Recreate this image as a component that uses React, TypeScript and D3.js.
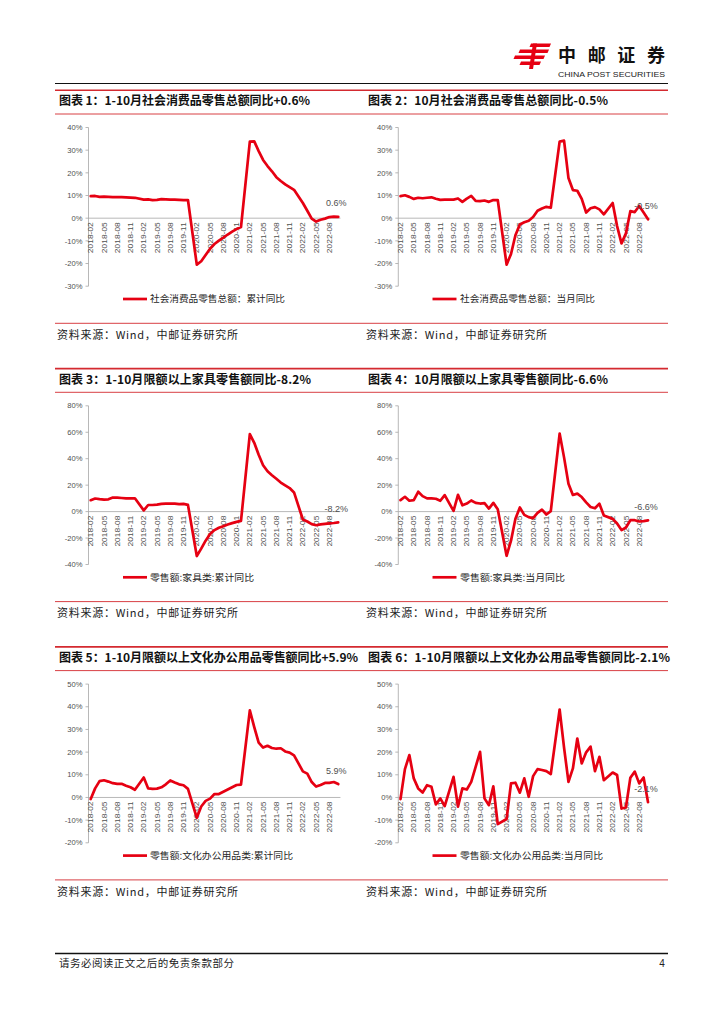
import React from 'react';
import * as d3 from 'd3';

// ---------- categories ----------
const MONTHS: string[] = (() => {
  const out: string[] = [];
  for (let y = 2018; y <= 2022; y++) {
    for (let m = 1; m <= 12; m++) {
      if (y === 2018 && m < 2) continue;
      if (y === 2022 && m > 10) continue;
      out.push(`${y}-${String(m).padStart(2, '0')}`);
    }
  }
  return out;
})();

const TICK_LABELS = [
  '2018-02', '2018-05', '2018-08', '2018-11',
  '2019-02', '2019-05', '2019-08', '2019-11',
  '2020-02', '2020-05', '2020-08', '2020-11',
  '2021-02', '2021-05', '2021-08', '2021-11',
  '2022-02', '2022-05', '2022-08',
];

// ---------- series (January merged into Feb -> null) ----------
const retailCum = [
  9.7, 9.8, 9.4, 9.5, 9.4, 9.3, 9.3, 9.3, 9.2, 9.1, 9.0,
  null, 8.2, 8.3, 8.0, 8.1, 8.4, 8.3, 8.2, 8.2, 8.1, 8.0, 8.0,
  null, -20.5, -19.0, -16.2, -13.5, -11.4, -9.9, -8.6, -7.2, -5.9, -4.8, -3.9,
  null, 33.8, 33.9, 29.6, 25.7, 23.0, 20.7, 18.1, 16.4, 14.9, 13.7, 12.5,
  null, 6.7, 3.3, -0.2, -1.5, -0.7, -0.2, 0.5, 0.7, 0.6,
];
const retailMon = [
  9.7, 10.1, 9.4, 8.5, 9.0, 8.8, 9.0, 9.2, 8.6, 8.1, 8.2,
  null, 8.2, 8.7, 7.2, 8.6, 9.8, 7.6, 7.5, 7.8, 7.2, 8.0, 8.0,
  null, -20.5, -15.8, -7.5, -2.8, -1.8, -1.1, 0.5, 3.3, 4.3, 5.0, 4.6,
  null, 33.8, 34.2, 17.7, 12.4, 12.1, 8.5, 2.5, 4.4, 4.9, 3.9, 1.7,
  null, 6.7, -3.5, -11.1, -6.7, 3.1, 2.7, 5.4, 2.5, -0.5,
];
const furnCum = [
  8.6, 9.9, 9.4, 9.0, 9.3, 10.6, 10.5, 10.3, 10.0, 10.0, 10.1,
  null, 0.9, 5.0, 5.0, 5.3, 5.8, 6.0, 6.0, 6.0, 5.6, 5.8, 5.1,
  null, -33.6, -28.0, -22.0, -17.0, -14.0, -12.2, -11.0, -9.8, -8.7, -7.8, -7.0,
  null, 58.6, 52.0, 43.0, 35.0, 30.5, 27.5, 24.8, 22.0, 19.8, 17.8, 14.5,
  null, -6.0, -7.5, -9.5, -10.3, -9.7, -9.3, -8.9, -8.6, -8.2,
];
const furnMon = [
  8.7, 11.2, 8.2, 8.7, 15.0, 11.7, 10.0, 10.0, 9.7, 8.2, 12.5,
  null, 0.5, 12.7, 4.8, 6.1, 8.4, 6.6, 6.1, 6.4, 2.3, 6.6, 1.8,
  null, -33.4, -22.0, -5.4, 3.1, -2.5, -4.2, -5.0, -1.0, 1.5, -2.2, 0.3,
  null, 59.0, 41.0, 21.0, 12.6, 13.6, 11.0, 7.0, 3.5, 2.5, 6.0, -3.0,
  null, -5.5, -9.0, -14.0, -12.0, -6.5, -6.5, -7.5, -7.2, -6.6,
];
const officeCum = [
  -0.7, 4.0, 7.2, 7.6, 7.0, 6.3, 6.0, 6.0, 5.2, 4.5, 3.4,
  null, 8.8, 4.0, 3.8, 3.9, 4.5, 5.8, 7.5, 6.6, 5.8, 5.4, 3.8,
  null, -9.0, -4.0, -1.5, -0.5, 1.5, 1.5, 2.5, 3.5, 4.5, 5.5, 5.7,
  null, 38.4, 31.0, 24.2, 22.0, 22.8, 21.8, 21.5, 21.7, 20.3, 19.8, 18.6,
  null, 11.5, 10.5, 6.8, 4.8, 5.5, 6.4, 6.4, 6.8, 5.9,
];
const officeMon = [
  -0.7, 12.5, 18.7, 8.4, 4.0, 2.2, 5.4, 4.7, -3.1, -0.4, -3.8,
  null, 9.1, -4.1, 4.0, 3.5, 6.9, 13.5, 20.1, -0.4, -3.4, 4.9, -11.8,
  null, -9.5, 6.2, 6.5, 2.1, 8.4, 0.3, 9.4, 12.5, 12.1, 11.6, 10.3,
  null, 38.8, 22.0, 6.9, 12.8, 26.0, 15.0, 19.9, 22.4, 11.6, 17.9, 7.6,
  null, 11.0, 9.9, -4.9, -4.4, 8.7, 11.4, 6.2, 8.8, -2.1,
];

const TICKS_A = [-30, -20, -10, 0, 10, 20, 30, 40];
const TICKS_B = [-40, -20, 0, 20, 40, 60, 80];
const TICKS_C = [-20, -10, 0, 10, 20, 30, 40, 50];

const TITLES = [
  '图表 1：1-10月社会消费品零售总额同比+0.6%',
  '图表 2：10月社会消费品零售总额同比-0.5%',
  '图表 3：1-10月限额以上家具零售额同比-8.2%',
  '图表 4：10月限额以上家具零售额同比-6.6%',
  '图表 5：1-10月限额以上文化办公用品零售额同比+5.9%',
  '图表 6：1-10月限额以上文化办公用品零售额同比-2.1%',
];
const LEGENDS = [
  '社会消费品零售总额：累计同比',
  '社会消费品零售总额：当月同比',
  '零售额:家具类:累计同比',
  '零售额:家具类:当月同比',
  '零售额:文化办公用品类:累计同比',
  '零售额:文化办公用品类:当月同比',
];
const SERIES = [retailCum, retailMon, furnCum, furnMon, officeCum, officeMon];
const TICKSETS = [TICKS_A, TICKS_A, TICKS_B, TICKS_B, TICKS_C, TICKS_C];
const SOURCE = '资料来源：Wind，中邮证券研究所';

// ---------- layout (positions / styles) ----------
const LINE_RED = '#e60012';
const RULE_RED = '#d42a30';
const AXIS_GRAY = '#a6a6a6';
const TEXT_GRAY = '#505050';
const NUM_FONT = '"Liberation Sans", Arial, sans-serif';
const CJK_FONT = '"Noto Sans CJK SC", "Noto Sans", sans-serif';
const ROW_OFF = 278.3;
const COL_X = [88.5, 398.3];
const STEP = 4.42;
const TITLE_W = [251, 240, 252, 240, 299, 302];
const LEGEND_W = [135, 135, 104, 105, 143, 143];

function fmt(v: number) {
  return `${v.toFixed(1)}%`;
}

function Chart({ idx }: { idx: number }) {
  const row = Math.floor(idx / 2);
  const col = idx % 2;
  const off = row * ROW_OFF;
  const x0 = COL_X[col];
  const yTop = 127.5 + off;
  const yBot = 286.2 + off;
  const ticks = TICKSETS[idx];
  const data = SERIES[idx];

  const x = d3.scaleBand<string>().domain(MONTHS).range([x0, x0 + MONTHS.length * STEP]);
  const y = d3
    .scaleLinear()
    .domain([ticks[0], ticks[ticks.length - 1]])
    .range([yBot, yTop]);
  const cx = (m: string) => (x(m) as number) + x.bandwidth() / 2;

  const pts = data
    .map((v, i) => ({ v, m: MONTHS[i] }))
    .filter((p) => p.v !== null) as { v: number; m: string }[];
  const line = d3
    .line<{ v: number; m: string }>()
    .x((p) => cx(p.m))
    .y((p) => y(p.v));
  const last = pts[pts.length - 1];
  const y0 = y(0);
  const xEnd = x0 + MONTHS.length * STEP;

  const legLineX = col === 0 ? 123 : 432.5;
  const legTextX = col === 0 ? 150 : 460;
  const legY = 299 + off;

  return (
    <g>
      {/* y axis */}
      <line x1={x0} x2={x0} y1={yTop} y2={yBot} stroke={AXIS_GRAY} strokeWidth={0.8} />
      {ticks.map((t) => (
        <g key={t}>
          <line x1={x0 - 3} x2={x0} y1={y(t)} y2={y(t)} stroke={AXIS_GRAY} strokeWidth={0.8} />
          <text
            x={x0 - 6}
            y={y(t)}
            dy="0.35em"
            textAnchor="end"
            fontSize={7.6}
            fontFamily={NUM_FONT}
            fill={TEXT_GRAY}
          >
            {`${t}%`}
          </text>
        </g>
      ))}
      {/* zero line */}
      <line x1={x0} x2={xEnd} y1={y0} y2={y0} stroke={AXIS_GRAY} strokeWidth={0.8} />
      {/* x labels */}
      {TICK_LABELS.map((lab) => (
        <text
          key={lab}
          transform={`translate(${cx(lab)},${y0 + 4}) rotate(-90)`}
          dy="0.35em"
          textAnchor="end"
          fontSize={7.4}
          fontFamily={NUM_FONT}
          fill={TEXT_GRAY}
          textLength={31}
          lengthAdjust="spacingAndGlyphs"
        >
          {lab}
        </text>
      ))}
      {/* series */}
      <path
        d={line(pts) as string}
        fill="none"
        stroke={LINE_RED}
        strokeWidth={2.7}
        strokeLinejoin="round"
        strokeLinecap="round"
      />
      {/* last value label */}
      <text
        x={cx(last.m) - 2}
        y={y(last.v) - 10.5}
        textAnchor="middle"
        fontSize={9}
        fontFamily={NUM_FONT}
        fill={TEXT_GRAY}
      >
        {fmt(last.v)}
      </text>
      {/* legend */}
      <line x1={legLineX} x2={legLineX + 24} y1={legY} y2={legY} stroke={LINE_RED} strokeWidth={2.7} />
      <text
        x={legTextX}
        y={legY}
        dy="0.36em"
        fontSize={9.6}
        fontFamily={CJK_FONT}
        fill="#262626"
        textLength={LEGEND_W[idx]}
        lengthAdjust="spacingAndGlyphs"
      >
        {LEGENDS[idx]}
      </text>
    </g>
  );
}

function Frame() {
  const L = 55;
  const R = 668;
  const rows = [0, 1, 2];
  return (
    <g>
      {/* header */}
      <g fill="#e60012">
        <polygon points="531,43.5 551,43.5 549.5,47 529.5,47" />
        <polygon points="520,49.5 549,49.5 547.5,53 518.5,53" />
        <polygon points="515,55.5 545,55.5 543.5,59 513.5,59" />
        <polygon points="521,61.5 541,61.5 539.5,65 519.5,65" />
        <polygon points="533,43.5 537,43.5 533,69 529,69" />
      </g>
      <text
        x={558}
        y={62}
        fontSize={18}
        fontWeight={700}
        fontFamily={CJK_FONT}
        fill="#111"
        textLength={107}
        lengthAdjust="spacing"
      >
        中邮证券
      </text>
      <text
        x={558}
        y={77.3}
        fontSize={6.5}
        fontFamily={NUM_FONT}
        fill="#222"
        textLength={107}
        lengthAdjust="spacingAndGlyphs"
      >
        CHINA POST SECURITIES
      </text>
      <line x1={L} x2={R} y1={83.5} y2={83.5} stroke="#111" strokeWidth={1} />

      {rows.map((r) => {
        const off = r * ROW_OFF;
        return (
          <g key={r}>
            <line x1={L} x2={R} y1={90.3 + off} y2={90.3 + off} stroke={RULE_RED} strokeWidth={1.6} />
            <line x1={L} x2={R} y1={114 + off} y2={114 + off} stroke={RULE_RED} strokeWidth={0.9} />
            <line x1={L} x2={R} y1={323.3 + off} y2={323.3 + off} stroke={RULE_RED} strokeWidth={0.9} />
            {[0, 1].map((c) => {
              const i = r * 2 + c;
              const tx = c === 0 ? 59 : 368;
              return (
                <g key={c}>
                  <text
                    x={tx}
                    y={105.2 + off}
                    fontSize={12}
                    fontWeight={700}
                    fontFamily={CJK_FONT}
                    fill="#111"
                    textLength={TITLE_W[i]}
                    lengthAdjust="spacing"
                  >
                    {TITLES[i]}
                  </text>
                  <text
                    x={tx - 2}
                    y={339 + off}
                    fontSize={11}
                    fontFamily={CJK_FONT}
                    fill="#222"
                    textLength={181}
                    lengthAdjust="spacing"
                  >
                    {SOURCE}
                  </text>
                </g>
              );
            })}
          </g>
        );
      })}

      {/* footer */}
      <line x1={L} x2={R} y1={953.5} y2={953.5} stroke="#111" strokeWidth={1.4} />
      <text
        x={59}
        y={967}
        fontSize={10.5}
        fontFamily={CJK_FONT}
        fill="#222"
        textLength={175}
        lengthAdjust="spacing"
      >
        请务必阅读正文之后的免责条款部分
      </text>
      <text x={662} y={967} fontSize={10} fontFamily={NUM_FONT} fill="#222" textAnchor="middle">
        4
      </text>
    </g>
  );
}

export default function App() {
  return (
    <svg
      width={724}
      height={1024}
      viewBox="0 0 724 1024"
      style={{ position: 'absolute', left: 0, top: 0, background: '#fff' }}
    >
      <rect x={0} y={0} width={724} height={1024} fill="#fff" />
      <Frame />
      {[0, 1, 2, 3, 4, 5].map((i) => (
        <Chart key={i} idx={i} />
      ))}
    </svg>
  );
}
